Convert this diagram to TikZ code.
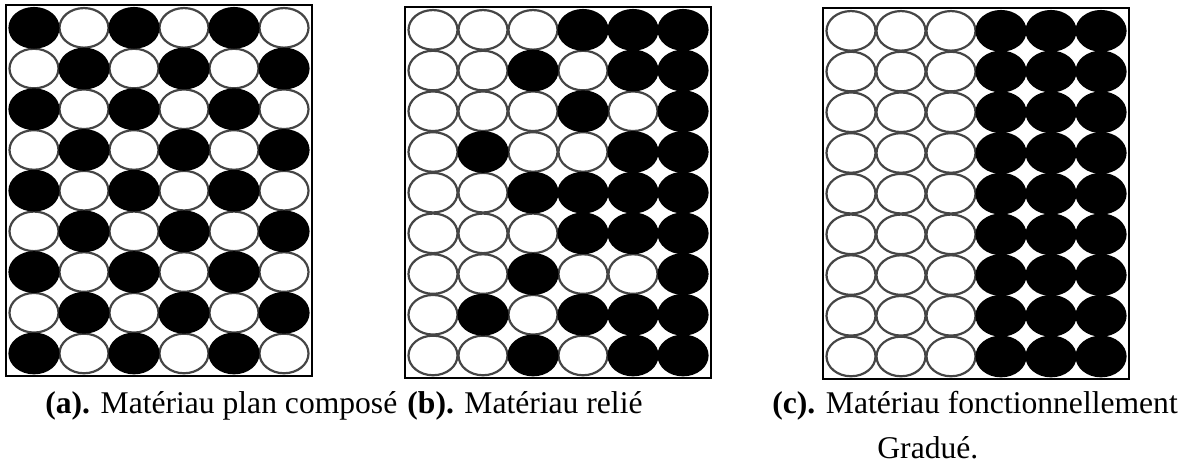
\documentclass[tikz,border=0pt]{standalone}
\usepackage{fontspec}
\setmainfont{Liberation Serif}
\usetikzlibrary{positioning}
\definecolor{Contour}{HTML}{454545}

% one panel: left, top, rows (0 = white, 1 = black)
\newcommand{\grain}[3]{%
    \draw[cadre] (#1,#2) rectangle ++(306,371);
    \foreach \rang [count=\j] in {#3}{
        \foreach \c [count=\i] in \rang{
            \ifnum\c=0
                \draw[blanc] (#1+3+50*\i-25,#2+2.5+40.7*\j-20.35) ellipse (24.5 and 19.8);
            \fi
        }
    }
    \foreach \rang [count=\j] in {#3}{
        \foreach \c [count=\i] in \rang{
            \ifnum\c=1
                \fill[noir] (#1+3+50*\i-25,#2+2.5+40.7*\j-20.35) ellipse (25.6 and 20.9);
            \fi
        }
    }
}

\begin{document}
\begin{tikzpicture}[
    x=0.5pt, y=-0.5pt,
    cadre/.style={draw=black, line width=1pt},
    blanc/.style={draw=Contour, fill=white, line width=1.1pt},
    noir/.style={fill=black},
    legende/.style={anchor=base west, inner sep=0pt,
        font=\fontsize{15.8}{19}\selectfont}
]
    \useasboundingbox (0,0) rectangle (1187,472);

    % (a) composite
    \grain{6}{5}{{1,0,1,0,1,0},{0,1,0,1,0,1},{1,0,1,0,1,0},
        {0,1,0,1,0,1},{1,0,1,0,1,0},{0,1,0,1,0,1},
        {1,0,1,0,1,0},{0,1,0,1,0,1},{1,0,1,0,1,0}}

    % (b) joined
    \grain{405}{7}{{0,0,0,1,1,1},{0,0,1,0,1,1},{0,0,0,1,0,1},
        {0,1,0,0,1,1},{0,0,1,1,1,1},{0,0,0,1,1,1},
        {0,0,1,0,0,1},{0,1,0,1,1,1},{0,0,1,0,1,1}}

    % (c) graded
    \grain{823}{8}{{0,0,0,1,1,1},{0,0,0,1,1,1},{0,0,0,1,1,1},
        {0,0,0,1,1,1},{0,0,0,1,1,1},{0,0,0,1,1,1},
        {0,0,0,1,1,1},{0,0,0,1,1,1},{0,0,0,1,1,1}}

    % captions
    \node[legende] (lega) at (45,413) {\textbf{(a).} Matériau plan composé};
    \node[legende] (legb) at (407,413) {\textbf{(b).} Matériau relié};
    \node[legende] (legc) at (772,413) {\textbf{(c).} Matériau fonctionnellement};
    \node[legende] (legd) at (877,458) {Gradué.};

\end{tikzpicture}
\end{document}
